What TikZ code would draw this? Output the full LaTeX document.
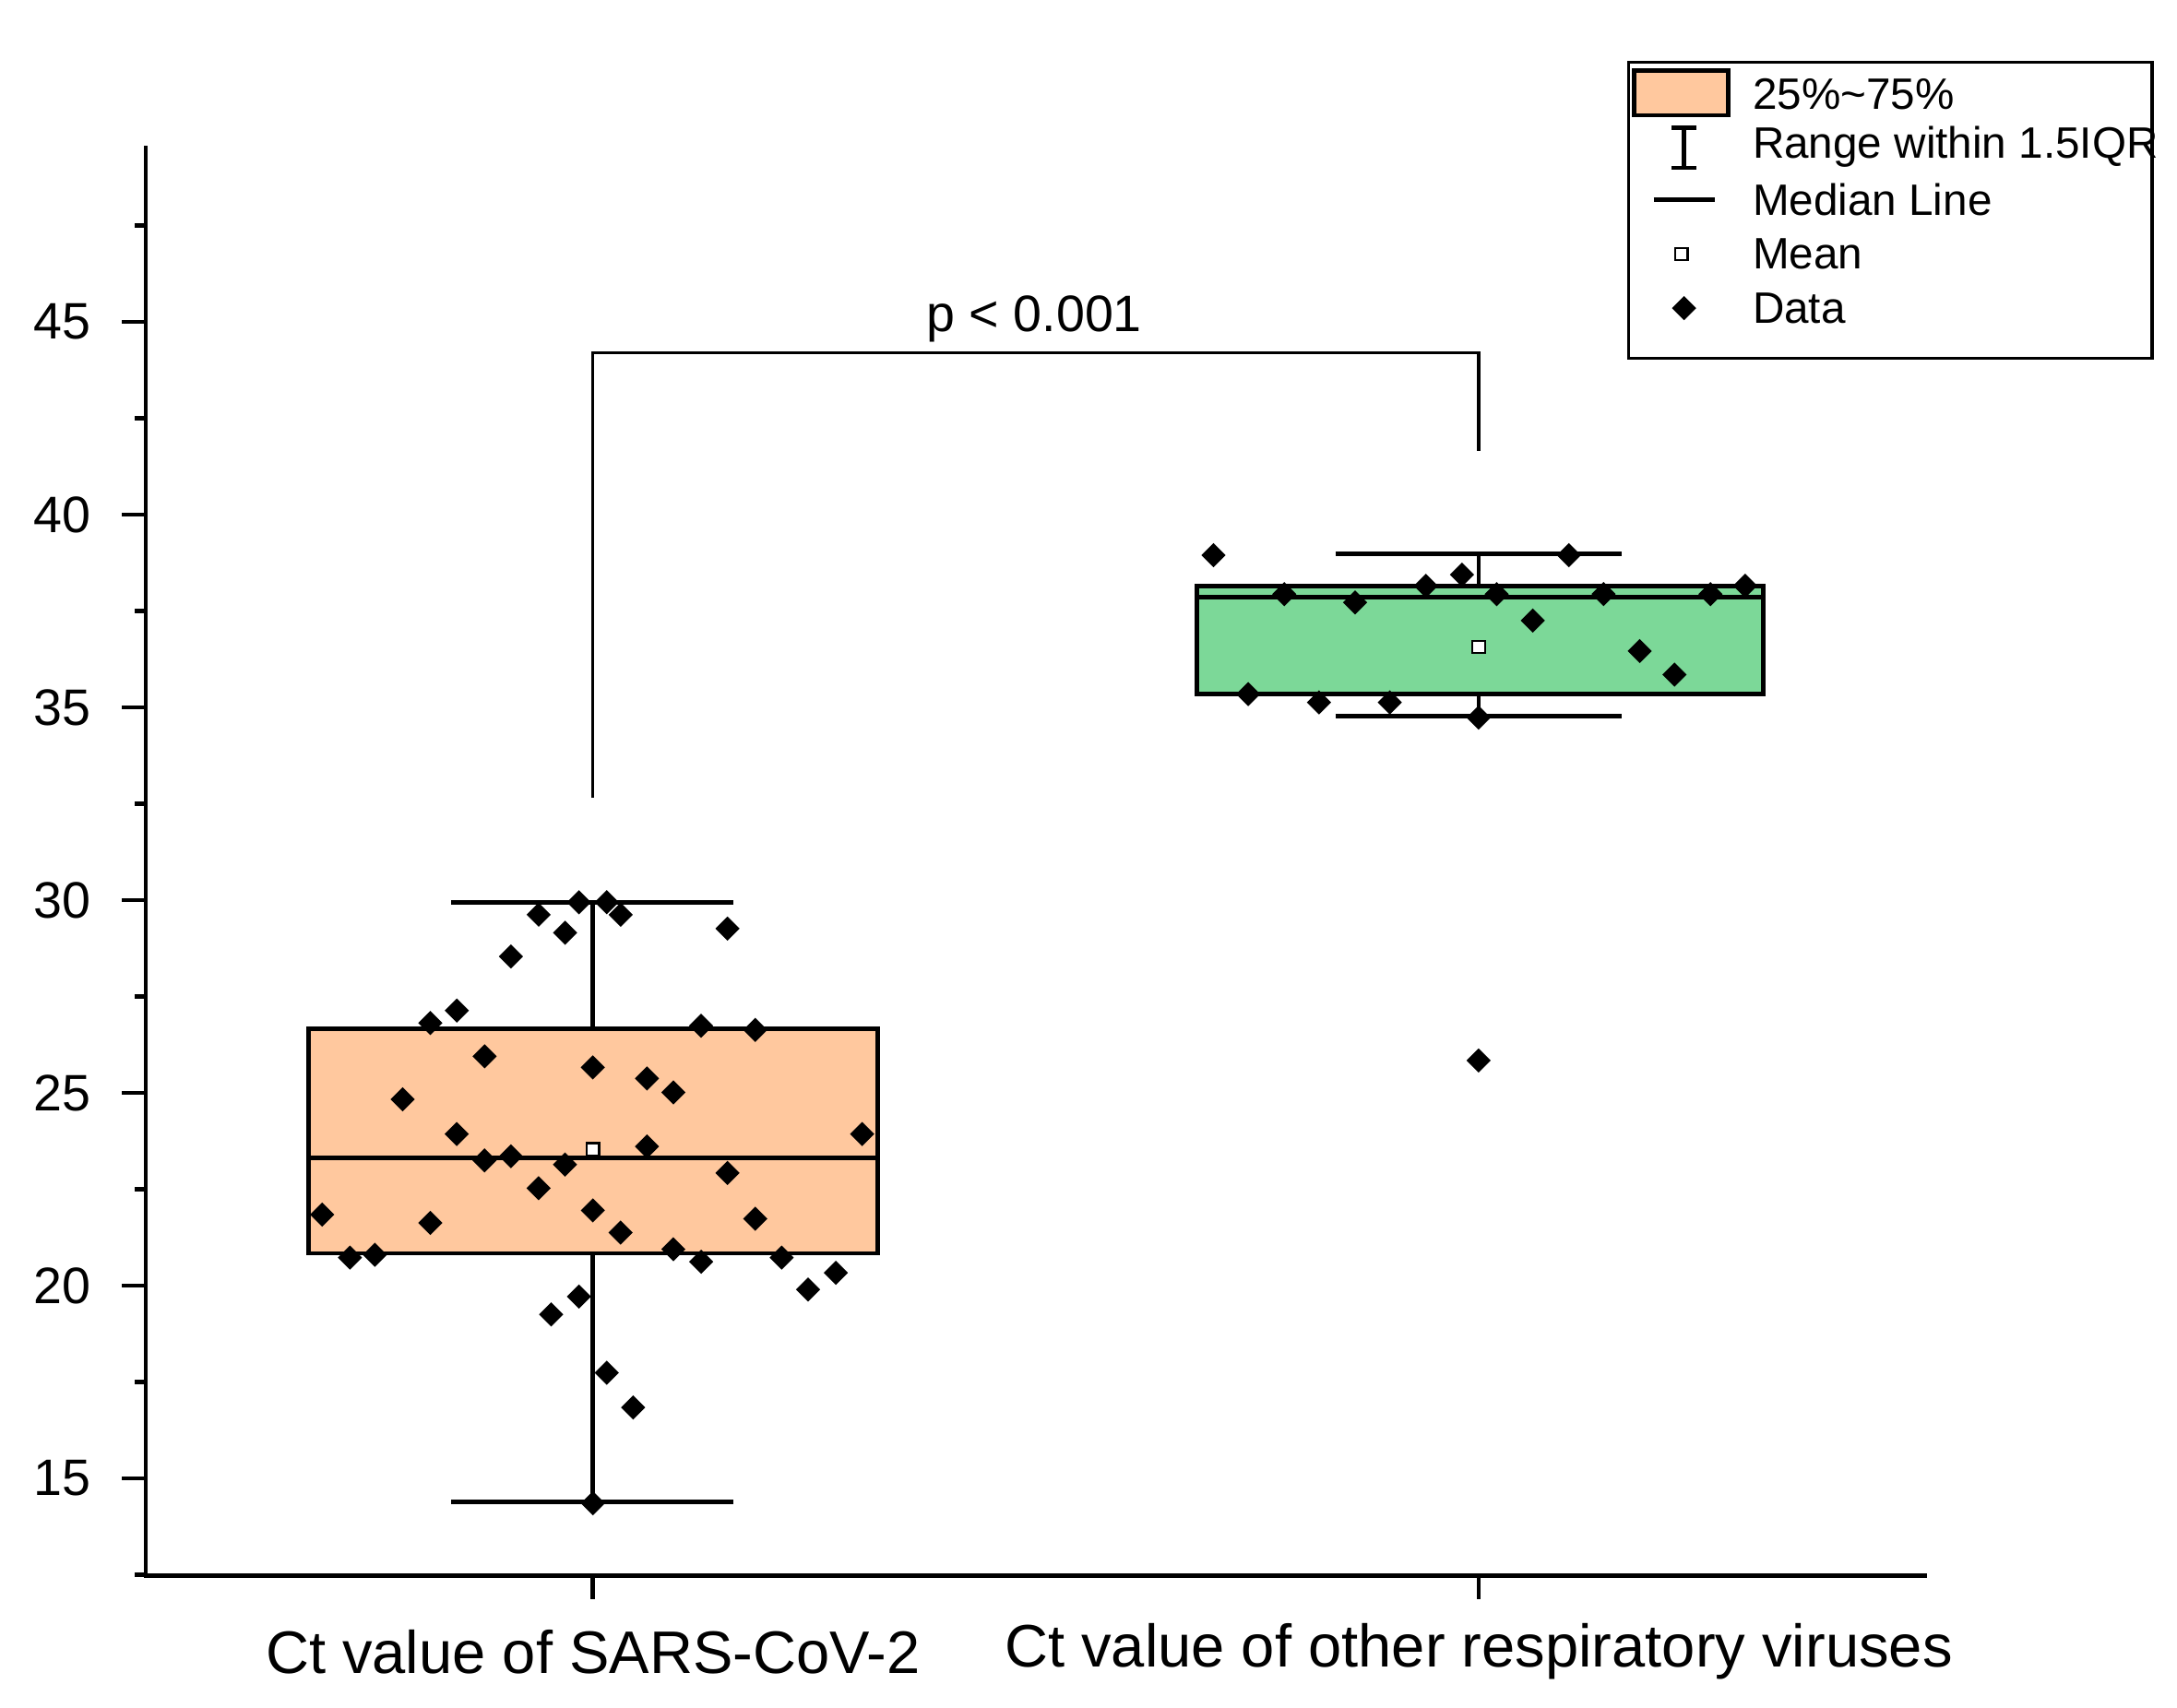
\documentclass[tikz,border=0pt]{standalone}
\usepackage{fontspec}
\setmainfont{Liberation Sans}
\begin{document}
\begin{tikzpicture}[x=0.01cm,y=-0.01cm,
  dat/.style={diamond,fill=black,inner sep=0pt,minimum size=0.18cm},
  mean/.style={draw=black,fill=white,inner sep=0pt,minimum size=0.09cm,line width=0.4pt},
  ln/.style={line width=0.9pt},
  tick/.style={font=\fontsize{10.5}{13}\selectfont,anchor=east},
  leg/.style={font=\fontsize{9}{11}\selectfont,anchor=west}]
\usetikzlibrary{shapes.geometric}
\useasboundingbox (0,0) rectangle (1568,1230);
\definecolor{org}{RGB}{255,200,158}
\definecolor{grn}{RGB}{124,216,152}
% axes
\draw[ln] (105,105) -- (105,1135) -- (1388,1135);
\foreach \v in {15,20,...,45}{
  \pgfmathsetmacro{\yy}{1065-(\v-15)*27.77}
  \draw[ln] (105,\yy) -- (88,\yy);
  \node[tick] at (78,\yy) {\v};}
\foreach \v in {12.5,17.5,...,47.5}{
  \pgfmathsetmacro{\yy}{1065-(\v-15)*27.77}
  \draw[ln] (105,\yy) -- (97,\yy);}
\draw[ln] (427,1135) -- (427,1152);
\draw[ln] (1065,1135) -- (1065,1152);
\node[font=\fontsize{12.3}{15}\selectfont] (c1) at (427,1190) {Ct value of SARS-CoV-2};
\node[font=\fontsize{12.3}{15}\selectfont] (c2) at (1065,1190) {Ct value of other respiratory viruses};
% box 1
\draw[ln] (427,1082) -- (427,650);
\draw[ln] (325,1082) -- (528,1082);
\draw[ln] (325,650) -- (528,650);
\draw[ln,fill=org] (222,741) rectangle (632,903);
\draw[ln] (222,834) -- (632,834);
% box 2
\draw[ln] (1065,516) -- (1065,399);
\draw[ln] (962,516) -- (1168,516);
\draw[ln] (962,399) -- (1168,399);
\draw[ln,fill=grn] (862,422) rectangle (1270,500);
\draw[ln] (862,430) -- (1270,430);
% data
\foreach \x/\y [count=\i] in {232/875,252/906,270/904,290/792,310/737,310/881,329/817,329/728,349/761,349/836,368/689,368/833,388/659,388/856,397/947,407/672,407/839,417/650,417/934,427/769,427/872,427/1083,437/650,437/989,447/659,447/888,456/1014,466/777,466/826,485/787,485/900,505/739,505/909,524/669,524/845,544/742,544/878,563/906,582/929,602/917,621/817}
  \node[dat] (a\i) at (\x,\y) {};
\foreach \x/\y [count=\i] in {874/400,899/500,925/428,950/506,976/434,1001/506,1027/422,1053/414,1065/517,1078/428,1065/764,1104/447,1130/400,1155/428,1181/469,1206/486,1232/428,1257/422}
  \node[dat] (b\i) at (\x,\y) {};
\node[mean] (m1) at (427,828) {};
\node[mean] (m2) at (1065,466) {};
% bracket
\coordinate (p1) at (427,575);
\coordinate (p2) at (427,254);
\coordinate (p3) at (1065,254);
\coordinate (p4) at (1065,325);
\draw[line width=0.6pt] (p1) -- (p2) -- (p3) -- (p4);
\node[font=\fontsize{10.5}{13}\selectfont] (pv) at (745,230) {p < 0.001};
% legend
\draw[line width=0.6pt] (1173,45) rectangle (1550,258);
\draw[ln,fill=org] (1177,51) rectangle (1245,83);
\node[leg] at (1250,68) {25\%\textasciitilde75\%};
\draw[ln] (1213,92) -- (1213,121);
\draw[ln] (1204,92) -- (1222,92);
\draw[ln] (1204,121) -- (1222,121);
\node[leg] at (1250,106) {Range within 1.5IQR};
\draw[ln] (1191,144) -- (1235,144);
\node[leg] at (1250,144) {Median Line};
\node[mean] (lm) at (1211,183) {};
\node[leg] at (1250,183) {Mean};
\node[dat] (ld) at (1213,222) {};
\node[leg] at (1250,222) {Data};
\end{tikzpicture}
\end{document}
